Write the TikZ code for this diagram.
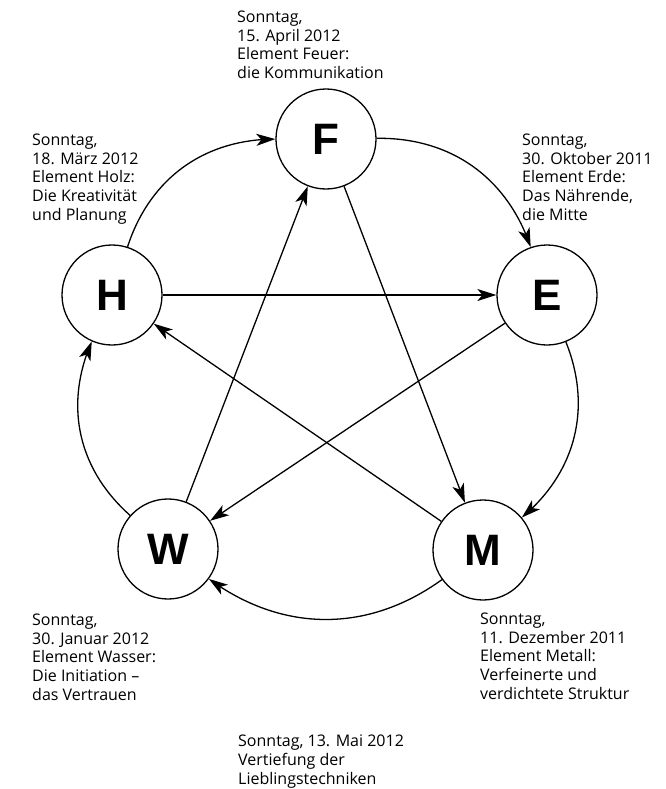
\documentclass[tikz,border=0pt]{standalone}
\usepackage{fontspec}
\setmainfont{Open Sans}
\newfontfamily\letterfont{Liberation Sans}
\usetikzlibrary{arrows.meta,bending}
\begin{document}
\begin{tikzpicture}[x=1pt,y=-1pt,
  elem/.style={circle, draw, line width=1.3pt, minimum size=100pt, inner sep=0pt,
    font=\letterfont\bfseries\fontsize{44}{44}\selectfont},
  lbl/.style={anchor=north west, inner sep=0pt, align=left,
    font=\fontsize{16}{18.6}\selectfont},
  conn/.style={line width=1.3pt, -{Stealth[length=19pt,width=12pt,inset=5pt]}}]
\useasboundingbox (0,0) rectangle (665,789);
\node[elem] (F) at (326,139) {F};
\node[elem] (H) at (112,295) {H};
\node[elem] (E) at (547,295) {E};
\node[elem] (W) at (168,549) {W};
\node[elem] (M) at (483,550) {M};

\draw[conn] (H) to[bend left=36] (F);
\draw[conn] (F) to[bend left=36] (E);
\draw[conn] (E) to[bend left=36] (M);
\draw[conn] (M) to[bend left=36] (W);
\draw[conn] (W) to[bend left=36] (H);

\draw[conn] (H) -- (E);
\draw[conn] (E) -- (W);
\draw[conn] (W) -- (F);
\draw[conn] (F) -- (M);
\draw[conn] (M) -- (H);

\node[lbl] (tF) at (237,11) {Sonntag,\\15. April 2012\\Element Feuer:\\die Kommunikation};
\node[lbl] (tH) at (32,134) {Sonntag,\\18. März 2012\\Element Holz:\\Die Kreativität\\und Planung};
\node[lbl] (tE) at (522,134) {Sonntag,\\30. Oktober 2011\\Element Erde:\\Das Nährende,\\die Mitte};
\node[lbl] (tW) at (32,614) {Sonntag,\\30. Januar 2012\\Element Wasser:\\Die Initiation –\\das Vertrauen};
\node[lbl] (tM) at (480,613) {Sonntag,\\11. Dezember 2011\\Element Metall:\\Verfeinerte und\\verdichtete Struktur};
\node[lbl] (tS) at (238,735) {Sonntag, 13. Mai 2012\\Vertiefung der\\Lieblingstechniken};
\end{tikzpicture}
\end{document}
